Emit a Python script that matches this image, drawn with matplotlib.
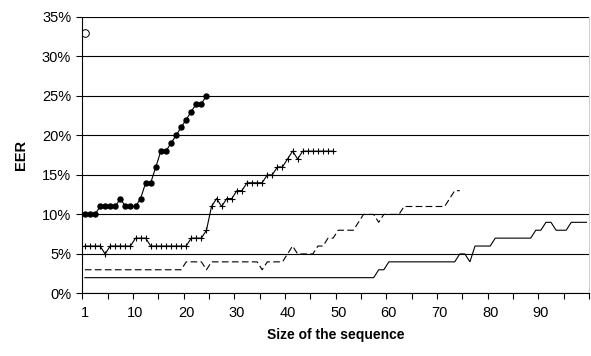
import matplotlib
matplotlib.use("Agg")
import matplotlib.pyplot as plt
from matplotlib.ticker import FixedLocator, FuncFormatter

plt.rcParams['font.family'] = ['Liberation Sans', 'DejaVu Sans']

# ---- data (EER in %) ----
single_point = [33]  # open circle at size 1

dots = [10, 10, 10, 11, 11, 11, 11, 12, 11, 11, 11, 12, 14, 14, 16, 18, 18, 19,
        20, 21, 22, 23, 24, 24, 25]

plus = [6, 6, 6, 6, 5, 6, 6, 6, 6, 6, 7, 7, 7, 6, 6, 6, 6, 6, 6, 6, 6, 7, 7, 7,
        8, 11, 12, 11, 12, 12, 13, 13, 14, 14, 14, 14, 15, 15, 16, 16, 17, 18,
        17, 18, 18, 18, 18, 18, 18, 18]

dashed = [3] * 20 + [4, 4, 4, 4, 3] + [4] * 10 + [3, 4, 4, 4, 4, 5, 6, 5, 5, 5, 5,
          6, 6, 7, 7, 8, 8, 8, 8, 9, 10, 10, 10, 9, 10, 10, 10, 10] + [11] * 9 + [12, 13, 13]

solid = [2] * 58 + [3, 3] + [4] * 14 + [5, 5, 4, 6, 6, 6, 6] + [7] * 8 + \
        [8, 8, 9, 9, 8, 8, 8, 9, 9, 9, 9]

xtick_pos = [1, 11, 21, 31, 41, 51, 61, 71, 81, 91]
xtick_labels = ["1", "10", "20", "30", "40", "50", "60", "70", "80", "90"]
yticks = [0, 5, 10, 15, 20, 25, 30, 35]

fig = plt.figure(figsize=(5.91, 3.56), dpi=100)
ax = fig.add_axes([0.1393, 0.1756, 0.9966 - 0.1393, 0.9531 - 0.1756])

def xs(vals):
    return list(range(1, len(vals) + 1))

ax.plot(xs(solid), solid, color='black', lw=0.8, solid_joinstyle='miter')
ax.plot(xs(dashed), dashed, color='black', lw=0.8, linestyle=(0, (6, 3)))
ax.plot(xs(plus), plus, color='black', lw=0.8, marker='+', markersize=5,
        markeredgewidth=0.8)
ax.plot(xs(dots), dots, color='black', lw=0.8, marker='o', markersize=3.6)
ax.plot(xs(single_point), single_point, linestyle='none', marker='o',
        markersize=5.5, markerfacecolor='white', markeredgecolor='black',
        markeredgewidth=0.7)

ax.set_xlim(0.5, 100.5)
ax.set_ylim(0, 35)

# y axis
ax.set_yticks(yticks)
ax.yaxis.set_major_formatter(FuncFormatter(lambda v, p: f"{int(v)}%"))
ax.yaxis.grid(True, color='black', lw=0.8)
ax.set_axisbelow(True)

# x axis: ticks every 5 categories (between), labels on categories
ax.xaxis.set_major_locator(FixedLocator(xtick_pos))
ax.set_xticklabels(xtick_labels)
ax.xaxis.set_minor_locator(FixedLocator([0.5 + 5 * i for i in range(21)]))
ax.tick_params(axis='x', which='major', length=0, pad=9, labelsize=10.5)
ax.tick_params(axis='x', which='minor', length=4, width=0.8, direction='out')
ax.tick_params(axis='y', which='major', length=4, width=0.8, direction='out',
               labelsize=10.5, pad=4)

ax.spines['top'].set_visible(False)
ax.spines['right'].set_color('#c8d0d8')
ax.spines['right'].set_linewidth(0.8)
ax.spines['left'].set_linewidth(0.8)
ax.spines['bottom'].set_linewidth(0.8)

ax.set_xlabel("Size of the sequence", fontsize=10, fontweight='bold', labelpad=6)
ax.set_ylabel("EER", fontsize=10.5, fontweight='bold', labelpad=10)

fig.savefig("out.png", dpi=100)
